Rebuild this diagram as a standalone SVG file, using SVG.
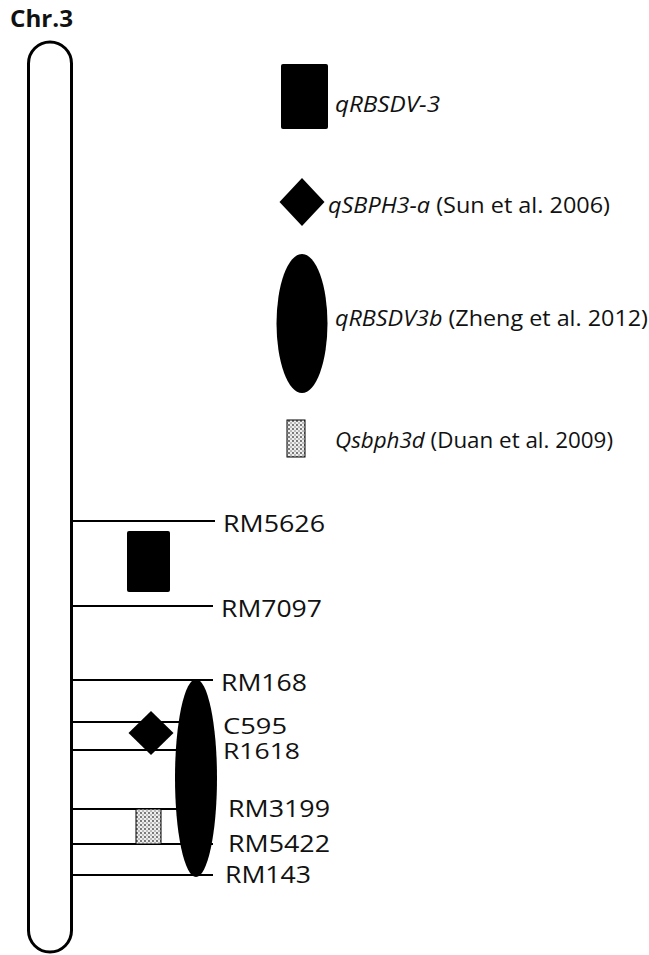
<svg xmlns="http://www.w3.org/2000/svg" width="649" height="955" viewBox="0 0 649 955">
<style>
text{font-family:"Open Sans","Liberation Sans",sans-serif;fill:#111}
.m{font-size:23px}
.s{font-size:22px}
.l{font-size:21px}
.i{font-style:italic}
.ln{stroke:#000;stroke-width:2}
</style>
<defs>
<pattern id="dots" width="4" height="4" patternUnits="userSpaceOnUse">
<rect width="4" height="4" fill="#eeeeee"/>
<circle cx="1" cy="1" r="0.9" fill="#444"/>
<circle cx="3" cy="3" r="0.8" fill="#777"/>
</pattern>
</defs>
<rect width="649" height="955" fill="#fff"/>
<text x="10" y="27" font-size="24" font-weight="bold" textLength="63" lengthAdjust="spacingAndGlyphs">Chr.3</text>
<g id="chromosome">
<rect x="28.5" y="42" width="43" height="910" rx="21.5" ry="21.5" fill="#fff" stroke="#000" stroke-width="3"/>
</g>
<g id="connectors">
<line class="ln" x1="72" y1="521" x2="215" y2="521"/>
<line class="ln" x1="72" y1="606" x2="213" y2="606"/>
<line class="ln" x1="72" y1="680" x2="213" y2="680"/>
<line class="ln" x1="72" y1="722" x2="213" y2="722"/>
<line class="ln" x1="72" y1="750" x2="213" y2="750"/>
<line class="ln" x1="72" y1="809" x2="213" y2="809"/>
<line class="ln" x1="72" y1="844" x2="213" y2="844"/>
<line class="ln" x1="72" y1="875" x2="213" y2="875"/>
</g>
<g id="markers">
<text class="m" x="223" y="532" textLength="102" lengthAdjust="spacingAndGlyphs">RM5626</text>
<text class="m" x="221" y="617" textLength="101" lengthAdjust="spacingAndGlyphs">RM7097</text>
<text class="m" x="221" y="691" textLength="86" lengthAdjust="spacingAndGlyphs">RM168</text>
<text class="s" x="223" y="734" textLength="64" lengthAdjust="spacingAndGlyphs">C595</text>
<text class="s" x="223" y="759" textLength="77" lengthAdjust="spacingAndGlyphs">R1618</text>
<text class="m" x="228" y="817" textLength="102" lengthAdjust="spacingAndGlyphs">RM3199</text>
<text class="m" x="228" y="852" textLength="102" lengthAdjust="spacingAndGlyphs">RM5422</text>
<text class="m" x="225" y="883" textLength="86" lengthAdjust="spacingAndGlyphs">RM143</text>
</g>
<g id="qRBSDV-3-region"><rect x="127" y="531" width="43" height="61" rx="2" fill="#000"/></g>
<g id="qRBSDV3b-region"><ellipse cx="196" cy="778" rx="21" ry="99" fill="#000"/></g>
<g id="qSBPH3-a-region"><polygon points="151,711 173.5,733 151,755 128.5,733" fill="#000"/></g>
<g id="Qsbph3d-region"><rect x="136" y="809" width="25" height="35" fill="url(#dots)" stroke="#000" stroke-width="1"/></g>
<g id="legend-qRBSDV-3">
<rect x="281" y="64" width="47" height="65" rx="2" fill="#000"/>
<text class="l i" x="335" y="112" textLength="105" lengthAdjust="spacingAndGlyphs">qRBSDV-3</text>
</g>
<g id="legend-qSBPH3-a">
<polygon points="302,178 324.5,202 302,226 279.5,202" fill="#000"/>
<text class="l" x="328" y="213" textLength="282" lengthAdjust="spacingAndGlyphs"><tspan class="i">qSBPH3-a</tspan> (Sun et al. 2006)</text>
</g>
<g id="legend-qRBSDV3b">
<ellipse cx="302" cy="323.5" rx="25.5" ry="69.5" fill="#000"/>
<text class="l" x="335" y="326" textLength="313" lengthAdjust="spacingAndGlyphs"><tspan class="i">qRBSDV3b</tspan> (Zheng et al. 2012)</text>
</g>
<g id="legend-Qsbph3d">
<rect x="287" y="420" width="18" height="37" fill="url(#dots)" stroke="#000" stroke-width="1"/>
<text class="l" x="335" y="448" textLength="278" lengthAdjust="spacingAndGlyphs"><tspan class="i">Qsbph3d</tspan> (Duan et al. 2009)</text>
</g>
</svg>
